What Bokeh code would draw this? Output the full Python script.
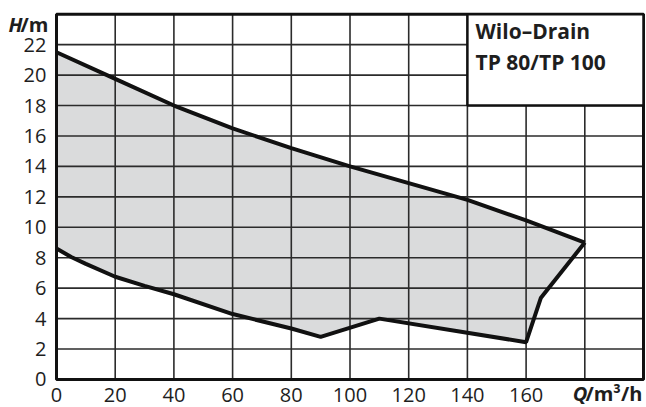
from bokeh.plotting import figure
from bokeh.models import Range1d
from bokeh.core.properties import value
from bokeh.embed import file_html
from bokeh.resources import INLINE

# ---- data ----
upper_q = [0, 20, 40, 60, 80, 100, 120, 140, 160, 180]
upper_h = [21.5, 19.75, 18.0, 16.5, 15.2, 14.0, 12.9, 11.8, 10.45, 9.0]
lower_q = [0, 5, 10, 20, 30, 40, 60, 80, 90, 110, 160, 165, 180]
lower_h = [8.6, 8.05, 7.6, 6.75, 6.15, 5.6, 4.3, 3.35, 2.8, 4.0, 2.45, 5.35, 9.0]
x_ticks = [0, 20, 40, 60, 80, 100, 120, 140, 160]
y_ticks = [0, 2, 4, 6, 8, 10, 12, 14, 16, 18, 20, 22]
x_grid = [0, 20, 40, 60, 80, 100, 120, 140, 160, 180, 200]
y_grid = [0, 2, 4, 6, 8, 10, 12, 14, 16, 18, 20, 22, 24]
title_lines = ["Wilo–Drain", "TP 80/TP 100"]

FONT = "Open Sans"
INK = "#1e1e1e"
LINE = "#111111"

# canvas 646x407; frame spans whole canvas, ranges chosen so that the
# chart area (0..200, 0..24) sits where it does in the reference
p = figure(width=646, height=407, output_backend="svg", toolbar_location=None,
           x_range=Range1d(-19.08, 201.02), y_range=Range1d(-1.84, 24.90),
           min_border=0, min_border_left=0, min_border_right=0,
           min_border_top=0, min_border_bottom=0)
p.axis.visible = False
p.grid.visible = False
p.outline_line_color = None
p.background_fill_color = "white"
p.border_fill_color = "white"

xmin, xmax = x_grid[0], x_grid[-1]
ymin, ymax = y_grid[0], y_grid[-1]

# shaded operating range
patch_x = upper_q + lower_q[::-1]
patch_y = upper_h + lower_h[::-1]
p.patch(patch_x, patch_y, fill_color="#dadbdc", line_color=None)

# grid
p.segment(x0=x_grid, y0=[ymin] * len(x_grid), x1=x_grid, y1=[ymax] * len(x_grid),
          line_color="#2b2b2b", line_width=1.6)
p.segment(x0=[xmin] * len(y_grid), y0=y_grid, x1=[xmax] * len(y_grid), y1=y_grid,
          line_color="#2b2b2b", line_width=1.6)

# curves
p.line(upper_q, upper_h, line_color=LINE, line_width=4)
p.line(lower_q, lower_h, line_color=LINE, line_width=4)

# frame
p.quad(left=[xmin], right=[xmax], bottom=[ymin], top=[ymax], fill_color=None,
       line_color=LINE, line_width=3)

# title box
p.quad(left=[140], right=[200], bottom=[18], top=[24], fill_color="white",
       line_color=LINE, line_width=2.5)
p.text(x=[142.76, 142.76], y=[22.88, 20.89], text=title_lines,
       text_font=value(FONT), text_font_style="bold", text_font_size="21px",
       text_color=INK, text_baseline="middle", text_align="left")

# tick labels
p.text(x=x_ticks, y=[-1.0] * len(x_ticks), text=[str(v) for v in x_ticks],
       text_font=value(FONT), text_font_size="20px", text_color=INK,
       text_align="center", text_baseline="middle")
p.text(x=[-3.41] * len(y_ticks), y=y_ticks, text=[str(v) for v in y_ticks],
       text_font=value(FONT), text_font_size="20px", text_color=INK,
       text_align="right", text_baseline="middle")

# axis titles
p.text(x=[-2.73], y=[23.33], text=["/m"], text_font=value(FONT),
       text_font_style="bold", text_font_size="20px", text_color=INK,
       text_align="right", text_baseline="middle")
p.text(x=[-2.73], y=[23.33], x_offset=-26, text=["H"], text_font=value(FONT),
       text_font_style="bold italic", text_font_size="20px", text_color=INK,
       text_align="right", text_baseline="middle")
p.text(x=[199.6], y=[-0.95], text=["/m³/h"], text_font=value(FONT),
       text_font_style="bold", text_font_size="20px", text_color=INK,
       text_align="right", text_baseline="middle")
p.text(x=[199.6], y=[-0.95], x_offset=-55, text=["Q"], text_font=value(FONT),
       text_font_style="bold italic", text_font_size="20px", text_color=INK,
       text_align="right", text_baseline="middle")

open("out.html", "w").write(file_html(p, INLINE))
